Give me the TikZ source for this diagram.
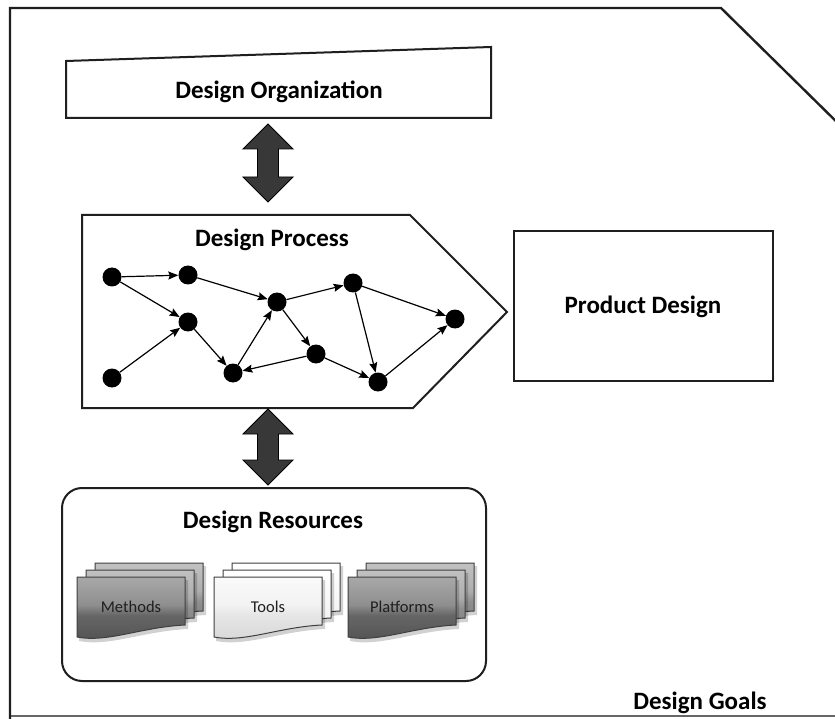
\documentclass[tikz,border=0pt]{standalone}
\usepackage{fontspec}
\setmainfont{Carlito}
\usetikzlibrary{arrows.meta,calc}

% fills of the resource sheets (bottom to top)
\pgfdeclareverticalshading{darksheet}{100bp}{color(0bp)=(black!68); color(25bp)=(black!68); color(46bp)=(black!60); color(54bp)=(black!44); color(75bp)=(black!34); color(100bp)=(black!34)}
\pgfdeclareverticalshading{darkback}{100bp}{color(0bp)=(black!52); color(25bp)=(black!52); color(46bp)=(black!44); color(54bp)=(black!32); color(75bp)=(black!24); color(100bp)=(black!24)}
\pgfdeclareverticalshading{lightsheet}{100bp}{color(0bp)=(black!16); color(25bp)=(black!16); color(46bp)=(black!10); color(54bp)=(black!5); color(75bp)=(black!2); color(100bp)=(black!2)}
\pgfdeclareverticalshading{lightback}{100bp}{color(0bp)=(black!6); color(25bp)=(black!6); color(75bp)=(white); color(100bp)=(white)}

% one sheet of a stack: top-left x, top-left y, shading
\newcommand\docsheet[3]{%
  \fill[black, opacity=0.18] (#1+2,#2+3) -- (#1+111,#2+3) -- (#1+111,#2+52)
     .. controls (#1+67,#2+54) and (#1+32,#2+70) .. (#1+2,#2+64) -- cycle;
  \draw[sheetline, shading=#3] (#1,#2) -- (#1+108,#2) -- (#1+108,#2+48)
     .. controls (#1+65,#2+50) and (#1+30,#2+66) .. (#1,#2+60) -- cycle;}

% three stacked sheets: front x, front y, front shading, back shading
\newcommand\docstack[4]{%
  \docsheet{#1+18}{#2-14}{#4}
  \docsheet{#1+9}{#2-7}{#4}
  \docsheet{#1}{#2}{#3}}

% vertical two-headed block arrow between two points
\newcommand\twowayarrow[2]{%
  \path let \p1=(#1), \p2=(#2) in
    [bigarrow] (\x1,\y1) -- (\x1+25pt,\y1-25pt) -- (\x1+10.5pt,\y1-25pt)
    -- (\x1+10.5pt,\y2+25pt) -- (\x1+25pt,\y2+25pt) -- (\x1,\y2)
    -- (\x1-25pt,\y2+25pt) -- (\x1-10.5pt,\y2+25pt) -- (\x1-10.5pt,\y1-25pt)
    -- (\x1-25pt,\y1-25pt) -- cycle;}

\begin{document}
\begin{tikzpicture}[x=1pt,y=-1pt,
  title/.style={font=\fontsize{25}{29}\selectfont\bfseries, inner sep=0pt},
  box/.style={draw=black!88, line width=2pt, line join=miter},
  dot/.style={circle, fill=black, inner sep=0pt, minimum size=19pt},
  flow/.style={-{Stealth[length=10pt,width=8pt,inset=1.5pt]}, line width=1.2pt},
  bigarrow/.style={fill=black!78, draw=black, line width=0.9pt, line join=miter},
  sheetline/.style={draw=black!75, line width=1pt},
  label/.style={font=\fontsize{16.5}{18}\selectfont, text=black!88, inner sep=0pt}
]
\useasboundingbox (0,0) rectangle (835,719);
\clip (0,0) rectangle (835,719);
\fill[white] (0,0) rectangle (835,719);

% outer frame: design goals
\draw[black!60, line width=1.5pt] (10,716) -- (845,716);
\draw[black!88, line width=2.4pt, line join=miter] (10,720) -- (10,8) -- (721,8) -- (850,135);
\node[title] (goals) at (700,703) {Design Goals};

% design organization
\draw[box] (66,61) -- (491,47) -- (491,118) -- (66,118) -- cycle;
\node[title] (org) at (279,92) {Design Organization};
\coordinate (orgS) at (268,124);
\coordinate (procN) at (268,202);

% design process
\draw[box] (82,215) -- (410,215) -- (507,312) -- (413,408) -- (82,408) -- cycle;
\node[title] (proc) at (272,240) {Design Process};
\coordinate (procS) at (268,409);
\coordinate (resN) at (268,485);

% process network
\node[dot] (n1) at (112,277) {};
\node[dot] (n2) at (188,275) {};
\node[dot] (n3) at (188,322) {};
\node[dot] (n4) at (112,378) {};
\node[dot] (n5) at (233,373) {};
\node[dot] (n6) at (277,302) {};
\node[dot] (n7) at (316,354) {};
\node[dot] (n8) at (353,283) {};
\node[dot] (n9) at (378,382) {};
\node[dot] (n10) at (455,319) {};
\foreach \a/\b in {n1/n2, n1/n3, n4/n3, n2/n6, n3/n5, n5/n6, n6/n8, n6/n7,
                   n7/n5, n7/n9, n8/n9, n8/n10, n9/n10}
  \draw[flow] (\a) -- (\b);

% product design
\node[box, minimum width=259pt, minimum height=150pt, inner sep=0pt] (prod) at (643.5,306) {};
\node[title] (prodtext) at (643,307) {Product Design};

% design resources
\node[box, rounded corners=20pt, minimum width=424pt, minimum height=193pt, inner sep=0pt] (res) at (274,584.5) {};
\node[title] (restext) at (273,522) {Design Resources};

\docstack{77}{577}{darksheet}{darkback}
\docstack{214}{577}{lightsheet}{lightback}
\docstack{348}{577}{darksheet}{darkback}
\node[label] (methods) at (131,607) {Methods};
\node[label] (tools) at (268,607) {Tools};
\node[label] (platforms) at (402,607) {Platforms};

% links between the levels
\twowayarrow{orgS}{procN}
\twowayarrow{procS}{resN}
\end{tikzpicture}
\end{document}
